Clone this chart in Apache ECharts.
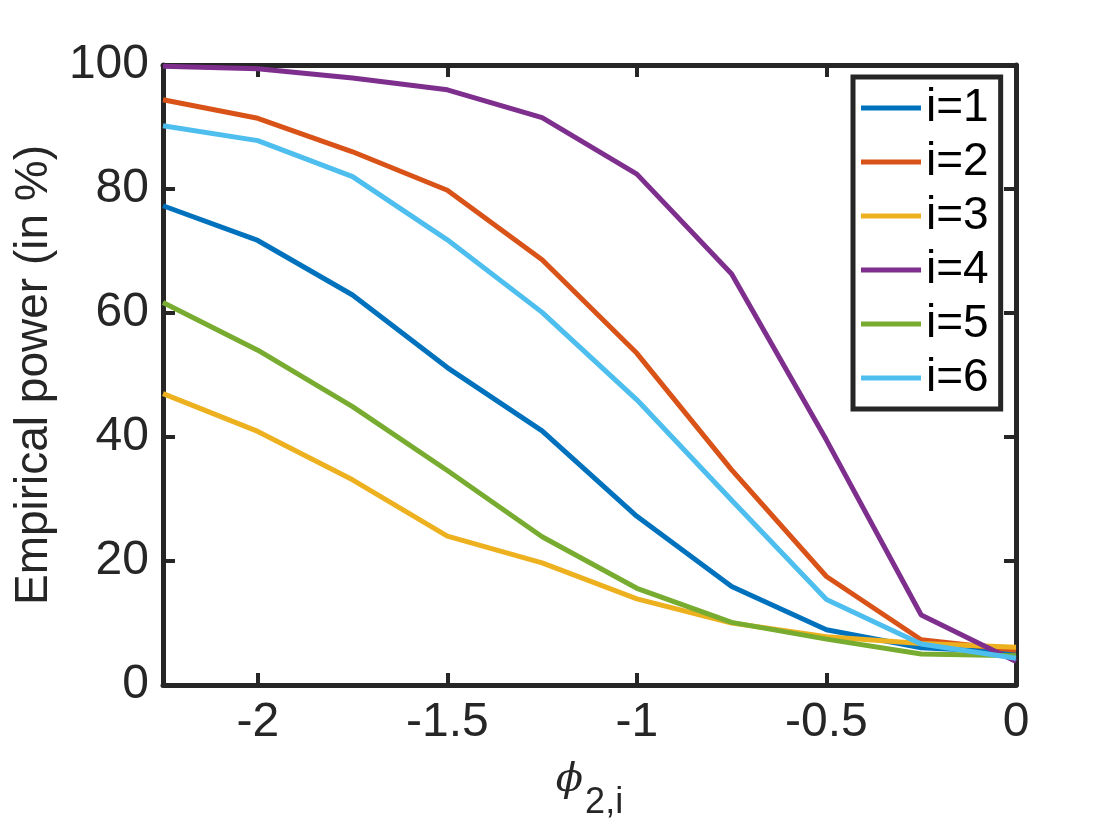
<!DOCTYPE html>
<html>
<head>
<meta charset="utf-8">
<script src="https://cdn.jsdelivr.net/npm/echarts@6/dist/echarts.min.js"></script>
<style>html,body{margin:0;padding:0;background:#fff;}#c{width:1120px;height:840px;}</style>
</head>
<body>
<div id="c"></div>
<script>
const xs = [-2.25, -2, -1.75, -1.5, -1.25, -1, -0.75, -0.5, -0.25, 0];
const names = ['i=1', 'i=2', 'i=3', 'i=4', 'i=5', 'i=6'];
const s1 = [77.3, 71.7, 62.9, 51.2, 41.0, 27.2, 15.9, 8.9, 6.0, 5.3];
const s2 = [94.4, 91.4, 86.0, 79.8, 68.6, 53.5, 34.7, 17.5, 7.3, 5.6];
const s3 = [47.0, 40.9, 33.1, 24.0, 19.7, 13.9, 10.0, 7.8, 6.7, 6.1];
const s4 = [99.8, 99.4, 97.9, 96.0, 91.5, 82.4, 66.3, 39.5, 11.3, 3.8];
const s5 = [61.7, 54.0, 44.9, 34.6, 23.9, 15.6, 10.1, 7.4, 5.0, 4.7];
const s6 = [90.2, 87.8, 82.0, 71.8, 60.1, 46.0, 29.8, 13.8, 6.6, 4.3];
const xTicks = [-2, -1.5, -1, -0.5, 0];
const yTicks = [0, 20, 40, 60, 80, 100];
const colors = ['#0072BD', '#D95319', '#EDB120', '#7E2F8E', '#77AC30', '#4DBEEE'];
const allSeries = [s1, s2, s3, s4, s5, s6];

const axisColor = '#262626';
const font = 'Liberation Sans';

const chart = echarts.init(document.getElementById('c'), null, {renderer: 'canvas'});
const option = {
  animation: false,
  backgroundColor: '#fff',
  color: colors,
  grid: {left: 163, right: 104, top: 65, bottom: 155},
  legend: {
    orient: 'vertical',
    left: 853, top: 77,
    data: names,
    icon: 'rect',
    itemWidth: 60, itemHeight: 5,
    itemGap: 4,
    itemTextGap: 5,
    padding: [6, 12, 6, 8],
    backgroundColor: '#fff',
    borderColor: axisColor,
    borderWidth: 5,
    borderRadius: 0,
    textStyle: {fontFamily: font, fontSize: 46, lineHeight: 50, color: '#000'}
  },
  xAxis: [{
    type: 'value', min: -2.25, max: 0, position: 'bottom',
    name: '{phi|ϕ}{sub|2,i}', nameLocation: 'middle', nameGap: 70,
    nameTextStyle: {
      rich: {
        phi: {fontFamily: 'DejaVu Serif', fontStyle: 'italic', fontSize: 40, color: axisColor, padding: [0, 2, 14, 0]},
        sub: {fontFamily: font, fontSize: 36, color: axisColor, padding: [30, 0, 0, 0]}
      }
    },
    axisLine: {show: true, onZero: false, lineStyle: {color: axisColor, width: 5}},
    axisTick: {show: true, inside: true, length: 12, customValues: xTicks, lineStyle: {color: axisColor, width: 4}},
    axisLabel: {customValues: xTicks, fontFamily: font, fontSize: 48, color: axisColor, margin: 14},
    splitLine: {show: false}
  }, {
    type: 'value', min: -2.25, max: 0, position: 'top',
    axisLine: {show: true, onZero: false, lineStyle: {color: axisColor, width: 5}},
    axisTick: {show: true, inside: true, length: 12, customValues: xTicks, lineStyle: {color: axisColor, width: 4}},
    axisLabel: {show: false},
    splitLine: {show: false}
  }],
  yAxis: [{
    type: 'value', min: 0, max: 100, interval: 20, position: 'left',
    name: 'Empirical power (in %)', nameLocation: 'middle', nameGap: 106, nameRotate: 90,
    nameTextStyle: {fontFamily: font, fontSize: 46, color: axisColor},
    axisLine: {show: true, onZero: false, lineStyle: {color: axisColor, width: 5}},
    axisTick: {show: true, inside: true, length: 12, lineStyle: {color: axisColor, width: 4}},
    axisLabel: {fontFamily: font, fontSize: 48, color: axisColor, margin: 14},
    splitLine: {show: false}
  }, {
    type: 'value', min: 0, max: 100, interval: 20, position: 'right',
    axisLine: {show: true, onZero: false, lineStyle: {color: axisColor, width: 5}},
    axisTick: {show: true, inside: true, length: 12, lineStyle: {color: axisColor, width: 4}},
    axisLabel: {show: false},
    splitLine: {show: false}
  }],
  series: allSeries.map((vals, k) => ({
    name: names[k],
    type: 'line',
    xAxisIndex: 0, yAxisIndex: 0,
    data: xs.map((x, j) => [x, vals[j]]),
    symbol: 'none',
    lineStyle: {width: 5, color: colors[k]},
    itemStyle: {color: colors[k]},
    clip: false,
    emphasis: {disabled: true}
  }))
};
chart.setOption(option);
</script>
</body>
</html>
